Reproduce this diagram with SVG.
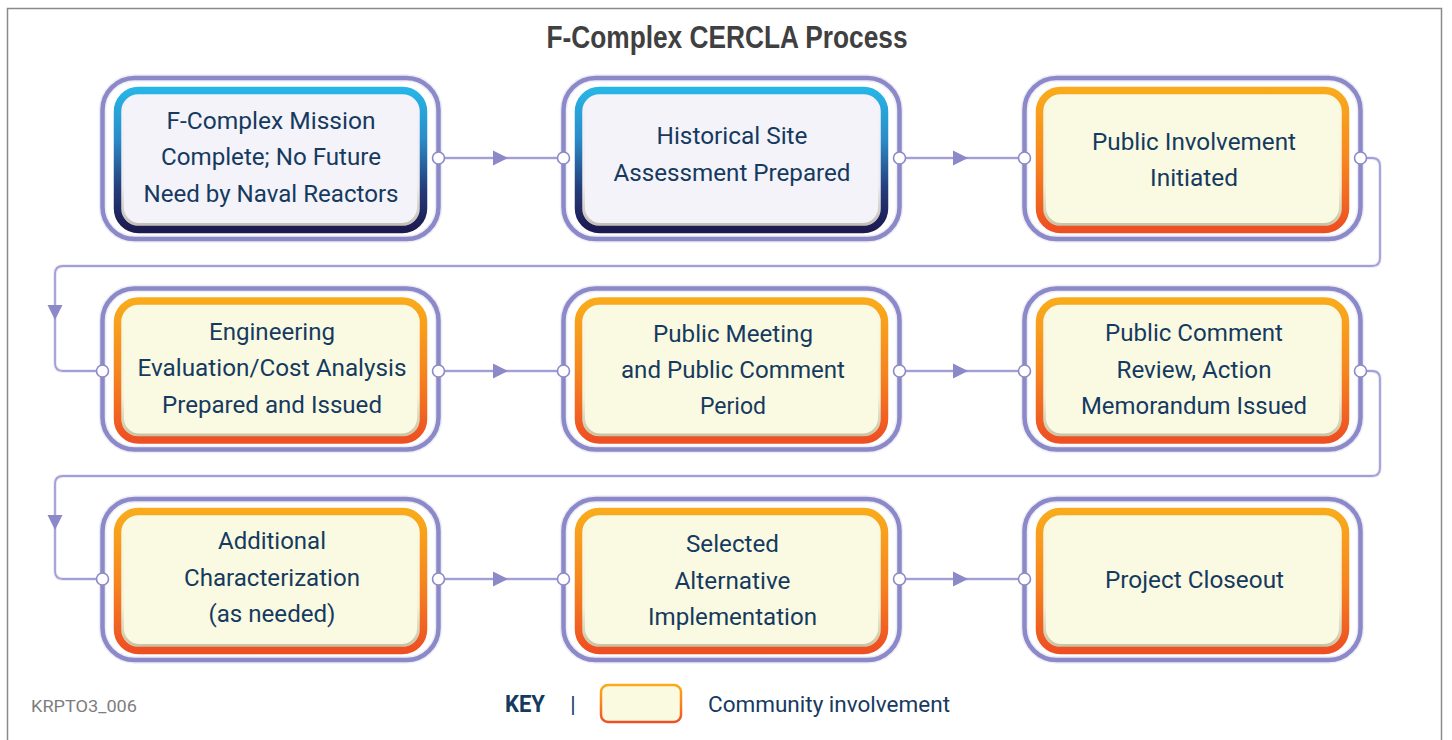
<svg xmlns="http://www.w3.org/2000/svg" width="1452" height="740" viewBox="0 0 1452 740">
<defs>
<linearGradient id="gBlue" x1="0" y1="0" x2="0" y2="1">
<stop offset="0" stop-color="#27b4e6"/><stop offset="0.35" stop-color="#2a8cc8"/><stop offset="0.7" stop-color="#253d7c"/><stop offset="1" stop-color="#1d1a50"/>
</linearGradient>
<linearGradient id="gOrange" x1="0" y1="0" x2="0" y2="1">
<stop offset="0" stop-color="#f9ab1c"/><stop offset="0.5" stop-color="#f6861f"/><stop offset="1" stop-color="#ee4f23"/>
</linearGradient>
<linearGradient id="gShadow" x1="0" y1="0" x2="0" y2="1">
<stop offset="0" stop-color="#000" stop-opacity="0"/><stop offset="0.7" stop-color="#5a4614" stop-opacity="0.04"/><stop offset="1" stop-color="#5a4614" stop-opacity="0.3"/>
</linearGradient>
<path id="ah" d="M-15,-7.5 L0,0 L-15,7.5 Z"/>
<style>
.halo{fill:none;stroke:#eeedf7;stroke-width:7.5}
.ring{fill:none;stroke:#8c89c8;stroke-width:4.5}
.ib{fill:#f3f3f9;stroke:url(#gBlue);stroke-width:7.5}
.io{fill:#fafae2;stroke:url(#gOrange);stroke-width:7.5}
.sh{fill:none;stroke:url(#gShadow);stroke-width:3}
.t{font-family:Roboto,"Liberation Sans",sans-serif;font-size:24px;fill:#163a5f;text-anchor:middle}
.lnh{fill:none;stroke:#ecebf7;stroke-width:4}
.ln{fill:none;stroke:#a19fd6;stroke-width:1.8}
.arr{fill:#8c89c8}
.dot{fill:#fff;stroke:#8c89c8;stroke-width:1.6}
</style>
</defs>
<rect x="0" y="0" width="1452" height="740" fill="#fff"/>
<rect x="7.5" y="8.5" width="1434" height="745" fill="none" stroke="#8a8a8a" stroke-width="1.5"/>
<text x="727" y="48" font-family="'Liberation Sans',Arial,sans-serif" font-weight="bold" font-size="31" fill="#404040" text-anchor="middle" textLength="361" lengthAdjust="spacingAndGlyphs">F-Complex CERCLA Process</text>

<g id="connectors">
<g class="lnh">
<path d="M438.5,158 H563.5 M898.5,158 H1024.5 M438.5,371 H563.5 M898.5,371 H1024.5 M438.5,579 H563.5 M898.5,579 H1024.5"/>
<path d="M1360.5,158 H1372 Q1380,158 1380,166 V258 Q1380,266 1372,266 H63 Q55,266 55,274 V363 Q55,371 63,371 H102.5"/>
<path d="M1360.5,371 H1372 Q1380,371 1380,379 V468 Q1380,476 1372,476 H63 Q55,476 55,484 V571 Q55,579 63,579 H102.5"/>
</g>
<g class="ln">
<path d="M438.5,158 H563.5 M898.5,158 H1024.5 M438.5,371 H563.5 M898.5,371 H1024.5 M438.5,579 H563.5 M898.5,579 H1024.5"/>
<path d="M1360.5,158 H1372 Q1380,158 1380,166 V258 Q1380,266 1372,266 H63 Q55,266 55,274 V363 Q55,371 63,371 H102.5"/>
<path d="M1360.5,371 H1372 Q1380,371 1380,379 V468 Q1380,476 1372,476 H63 Q55,476 55,484 V571 Q55,579 63,579 H102.5"/>
</g>
<g class="arr">
<use href="#ah" transform="translate(508,158)"/>
<use href="#ah" transform="translate(968,158)"/>
<use href="#ah" transform="translate(508,371)"/>
<use href="#ah" transform="translate(968,371)"/>
<use href="#ah" transform="translate(508,579)"/>
<use href="#ah" transform="translate(968,579)"/>
<use href="#ah" transform="translate(55,320) rotate(90)"/>
<use href="#ah" transform="translate(55,530) rotate(90)"/>
</g>
</g>

<g id="n1">
<rect class="halo" x="102.5" y="78" width="336" height="161" rx="32"/>
<rect class="ring" x="102.5" y="78" width="336" height="161" rx="32"/>
<rect class="ib" x="117.5" y="90.5" width="306" height="139" rx="21"/>
<rect class="sh" x="122.5" y="95.5" width="296" height="129" rx="17"/>
<text class="t"><tspan x="271" y="128.5" textLength="209" lengthAdjust="spacingAndGlyphs">F-Complex Mission</tspan><tspan x="271" y="165" textLength="220" lengthAdjust="spacingAndGlyphs">Complete; No Future</tspan><tspan x="271" y="201.5" textLength="255" lengthAdjust="spacingAndGlyphs">Need by Naval Reactors</tspan></text>
</g>
<g id="n2">
<rect class="halo" x="563.5" y="78" width="336" height="161" rx="32"/>
<rect class="ring" x="563.5" y="78" width="336" height="161" rx="32"/>
<rect class="ib" x="578.5" y="90.5" width="306" height="139" rx="21"/>
<rect class="sh" x="583.5" y="95.5" width="296" height="129" rx="17"/>
<text class="t"><tspan x="732" y="143.5" textLength="151" lengthAdjust="spacingAndGlyphs">Historical Site</tspan><tspan x="732" y="180.5" textLength="237" lengthAdjust="spacingAndGlyphs">Assessment Prepared</tspan></text>
</g>
<g id="n3">
<rect class="halo" x="1024.5" y="78" width="336" height="161" rx="32"/>
<rect class="ring" x="1024.5" y="78" width="336" height="161" rx="32"/>
<rect class="io" x="1039.5" y="90.5" width="306" height="139" rx="21"/>
<rect class="sh" x="1044.5" y="95.5" width="296" height="129" rx="17"/>
<text class="t"><tspan x="1194" y="149.5" textLength="204" lengthAdjust="spacingAndGlyphs">Public Involvement</tspan><tspan x="1194" y="185.5" textLength="88" lengthAdjust="spacingAndGlyphs">Initiated</tspan></text>
</g>
<g id="n4">
<rect class="halo" x="102.5" y="288.5" width="336" height="161" rx="32"/>
<rect class="ring" x="102.5" y="288.5" width="336" height="161" rx="32"/>
<rect class="io" x="117.5" y="301" width="306" height="139" rx="21"/>
<rect class="sh" x="122.5" y="306" width="296" height="129" rx="17"/>
<text class="t"><tspan x="272" y="339.5" textLength="126" lengthAdjust="spacingAndGlyphs">Engineering</tspan><tspan x="272" y="375.5" textLength="269" lengthAdjust="spacingAndGlyphs">Evaluation/Cost Analysis</tspan><tspan x="272" y="412.5" textLength="220" lengthAdjust="spacingAndGlyphs">Prepared and Issued</tspan></text>
</g>
<g id="n5">
<rect class="halo" x="563.5" y="288.5" width="336" height="161" rx="32"/>
<rect class="ring" x="563.5" y="288.5" width="336" height="161" rx="32"/>
<rect class="io" x="578.5" y="301" width="306" height="139" rx="21"/>
<rect class="sh" x="583.5" y="306" width="296" height="129" rx="17"/>
<text class="t"><tspan x="733" y="341.5" textLength="160" lengthAdjust="spacingAndGlyphs">Public Meeting</tspan><tspan x="733" y="377.5" textLength="224" lengthAdjust="spacingAndGlyphs">and Public Comment</tspan><tspan x="733" y="413.5" textLength="66" lengthAdjust="spacingAndGlyphs">Period</tspan></text>
</g>
<g id="n6">
<rect class="halo" x="1024.5" y="288.5" width="336" height="161" rx="32"/>
<rect class="ring" x="1024.5" y="288.5" width="336" height="161" rx="32"/>
<rect class="io" x="1039.5" y="301" width="306" height="139" rx="21"/>
<rect class="sh" x="1044.5" y="306" width="296" height="129" rx="17"/>
<text class="t"><tspan x="1194" y="340.5" textLength="178" lengthAdjust="spacingAndGlyphs">Public Comment</tspan><tspan x="1194" y="377.5" textLength="155" lengthAdjust="spacingAndGlyphs">Review, Action</tspan><tspan x="1194" y="413.5" textLength="226" lengthAdjust="spacingAndGlyphs">Memorandum Issued</tspan></text>
</g>
<g id="n7">
<rect class="halo" x="102.5" y="499" width="336" height="161" rx="32"/>
<rect class="ring" x="102.5" y="499" width="336" height="161" rx="32"/>
<rect class="io" x="117.5" y="511.5" width="306" height="139" rx="21"/>
<rect class="sh" x="122.5" y="516.5" width="296" height="129" rx="17"/>
<text class="t"><tspan x="272" y="548.5" textLength="108" lengthAdjust="spacingAndGlyphs">Additional</tspan><tspan x="272" y="585.5" textLength="176" lengthAdjust="spacingAndGlyphs">Characterization</tspan><tspan x="272" y="621.5" textLength="127" lengthAdjust="spacingAndGlyphs">(as needed)</tspan></text>
</g>
<g id="n8">
<rect class="halo" x="563.5" y="499" width="336" height="161" rx="32"/>
<rect class="ring" x="563.5" y="499" width="336" height="161" rx="32"/>
<rect class="io" x="578.5" y="511.5" width="306" height="139" rx="21"/>
<rect class="sh" x="583.5" y="516.5" width="296" height="129" rx="17"/>
<text class="t"><tspan x="732.5" y="551.5" textLength="93" lengthAdjust="spacingAndGlyphs">Selected</tspan><tspan x="732.5" y="588.5" textLength="116" lengthAdjust="spacingAndGlyphs">Alternative</tspan><tspan x="732.5" y="624.5" textLength="169" lengthAdjust="spacingAndGlyphs">Implementation</tspan></text>
</g>
<g id="n9">
<rect class="halo" x="1024.5" y="499" width="336" height="161" rx="32"/>
<rect class="ring" x="1024.5" y="499" width="336" height="161" rx="32"/>
<rect class="io" x="1039.5" y="511.5" width="306" height="139" rx="21"/>
<rect class="sh" x="1044.5" y="516.5" width="296" height="129" rx="17"/>
<text class="t"><tspan x="1194.5" y="587.5" textLength="179" lengthAdjust="spacingAndGlyphs">Project Closeout</tspan></text>
</g>

<g id="ports">
<circle class="dot" cx="438.5" cy="158" r="6"/><circle class="dot" cx="563.5" cy="158" r="6"/>
<circle class="dot" cx="899.5" cy="158" r="6"/><circle class="dot" cx="1024.5" cy="158" r="6"/>
<circle class="dot" cx="1360.5" cy="158" r="6"/>
<circle class="dot" cx="102.5" cy="371" r="6"/>
<circle class="dot" cx="438.5" cy="371" r="6"/><circle class="dot" cx="563.5" cy="371" r="6"/>
<circle class="dot" cx="899.5" cy="371" r="6"/><circle class="dot" cx="1024.5" cy="371" r="6"/>
<circle class="dot" cx="1360.5" cy="371" r="6"/>
<circle class="dot" cx="102.5" cy="579" r="6"/>
<circle class="dot" cx="438.5" cy="579" r="6"/><circle class="dot" cx="563.5" cy="579" r="6"/>
<circle class="dot" cx="899.5" cy="579" r="6"/><circle class="dot" cx="1024.5" cy="579" r="6"/>
</g>

<g id="key">
<text x="31" y="712" font-family="Roboto,'Liberation Sans',sans-serif" font-size="17" fill="#7d7d7d" textLength="106" lengthAdjust="spacingAndGlyphs">KRPTO3_006</text>
<text x="505" y="712" font-family="Roboto,'Liberation Sans',sans-serif" font-weight="bold" font-size="23" fill="#163a5f" textLength="40" lengthAdjust="spacingAndGlyphs">KEY</text>
<text x="573" y="712" font-family="Roboto,'Liberation Sans',sans-serif" font-size="22" fill="#163a5f" text-anchor="middle">|</text>
<rect x="601" y="685" width="80" height="37" rx="7" fill="#fafae0" stroke="url(#gOrange)" stroke-width="2.5"/>
<text x="708" y="712" font-family="Roboto,'Liberation Sans',sans-serif" font-size="22" fill="#163a5f" textLength="242" lengthAdjust="spacingAndGlyphs">Community involvement</text>
</g>
</svg>
